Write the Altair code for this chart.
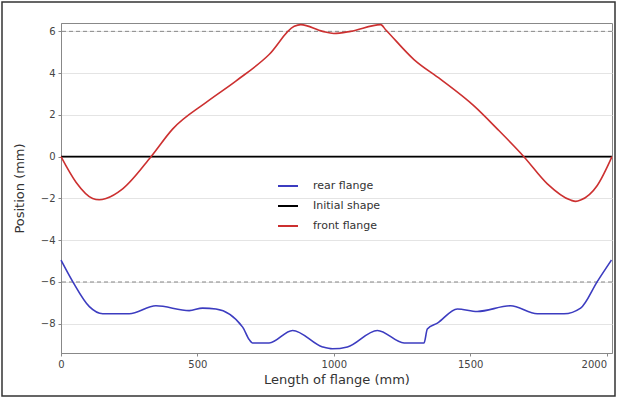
import altair as alt
import pandas as pd

# ---- data ----
rear_x = [0, 43, 104, 153, 250, 348, 470, 519, 568, 666, 690, 702, 763, 849, 959, 995,
          1050, 1160, 1258, 1331, 1343, 1380, 1453, 1526, 1648, 1746, 1844, 1905, 1966, 2018]
rear_y = [-4.95, -5.98, -7.18, -7.52, -7.52, -7.14, -7.37, -7.25, -7.29, -8.16, -8.76, -8.92,
          -8.92, -8.32, -9.11, -9.2, -9.11, -8.32, -8.92, -8.92, -8.25, -7.97, -7.29, -7.41,
          -7.14, -7.52, -7.52, -7.25, -5.98, -4.95]

front_x = [0, 55, 116, 140, 165, 226, 330, 409, 531, 641, 763, 855, 879, 959, 1000, 1062, 1172,
           1190, 1294, 1392, 1514, 1600, 1697, 1783, 1868, 1887, 1905, 1966, 2020]
front_y = [0, -1.22, -2.0, -2.06, -2.0, -1.54, 0, 1.32, 2.59, 3.62, 4.89, 6.24, 6.32, 6.0, 5.9,
           6.0, 6.32, 6.08, 4.65, 3.7, 2.43, 1.32, 0, -1.3, -2.08, -2.14, -2.08, -1.38, 0]

initial_x = [0, 2020]
initial_y = [0, 0]

limits = [6, -6]

series_names = ["rear flange", "Initial shape", "front flange"]
series_colors = ["#3c3cc0", "#000000", "#cc3030"]

x_ticks = [0, 500, 1000, 1500, 2000]
y_ticks = [6, 4, 2, 0, -2, -4, -6, -8]

# ---- build table ----
rows = []
for name, xs, ys in [("rear flange", rear_x, rear_y),
                     ("Initial shape", initial_x, initial_y),
                     ("front flange", front_x, front_y)]:
    for i, (xv, yv) in enumerate(zip(xs, ys)):
        rows.append({"series": name, "x": xv, "y": yv, "order": i})
df = pd.DataFrame(rows)

FONT = "DejaVu Sans"

xscale = alt.Scale(domain=[0, 2020], nice=False, zero=False)
yscale = alt.Scale(domain=[-9.4, 6.4], nice=False, zero=False)

x_label_align = {"condition": {"test": "datum.value >= 2000", "value": "right"},
                 "value": "center"}

lines = alt.Chart(df).mark_line(strokeWidth=1.6, interpolate="monotone").encode(
    x=alt.X("x:Q", scale=xscale,
            axis=alt.Axis(title="Length of flange (mm)", values=x_ticks, grid=False, format="d",
                          labelFlush=True, labelAlign=x_label_align,
                          labelFontSize=10, titleFontSize=13, titleFont=FONT, labelFont=FONT,
                          labelColor="#444", titleColor="#333", tickSize=3, labelPadding=3,
                          titleFontWeight="normal", titlePadding=4, domainColor="#888",
                          tickColor="#888")),
    y=alt.Y("y:Q", scale=yscale,
            axis=alt.Axis(title="Position (mm)", values=y_ticks, grid=True, gridColor="#e4e4e4",
                          labelFontSize=10, titleFontSize=13, titleFont=FONT, labelFont=FONT,
                          labelColor="#444", titleColor="#333", tickSize=3, labelPadding=3,
                          titleFontWeight="normal", titlePadding=14, domainColor="#888",
                          tickColor="#888")),
    color=alt.Color("series:N",
                    scale=alt.Scale(domain=series_names, range=series_colors),
                    sort=series_names,
                    legend=alt.Legend(title=None, orient="none", legendX=216, legendY=152,
                                      symbolType="stroke", symbolSize=400, symbolStrokeWidth=2,
                                      labelFontSize=11, labelFont=FONT, labelColor="#333",
                                      rowPadding=4, labelOffset=14)),
    strokeWidth=alt.condition(alt.datum.series == "Initial shape", alt.value(2.2), alt.value(1.6)),
    order="order:Q",
    detail="series:N",
)

lim_df = pd.DataFrame({"y": limits})
limit_rules = alt.Chart(lim_df).mark_rule(color="#888", strokeDash=[4, 3], strokeWidth=1).encode(
    y=alt.Y("y:Q", scale=yscale)
)

frame = alt.Chart(pd.DataFrame({"a": [0]})).mark_rect(
    fill=None, stroke="#333", strokeWidth=1.5, clip=False
).encode(
    x=alt.value(-59), x2=alt.value(554), y=alt.value(-21), y2=alt.value(373)
)

chart = alt.layer(limit_rules, lines, frame).properties(
    width=551, height=330,
    padding={"left": 61, "top": 23, "right": 5, "bottom": 45},
    autosize=alt.AutoSizeParams(type="none"),
    background="white",
).configure_view(stroke="#888", strokeWidth=1)

chart.save("out.html", embed_options={"renderer": "svg", "actions": False})
